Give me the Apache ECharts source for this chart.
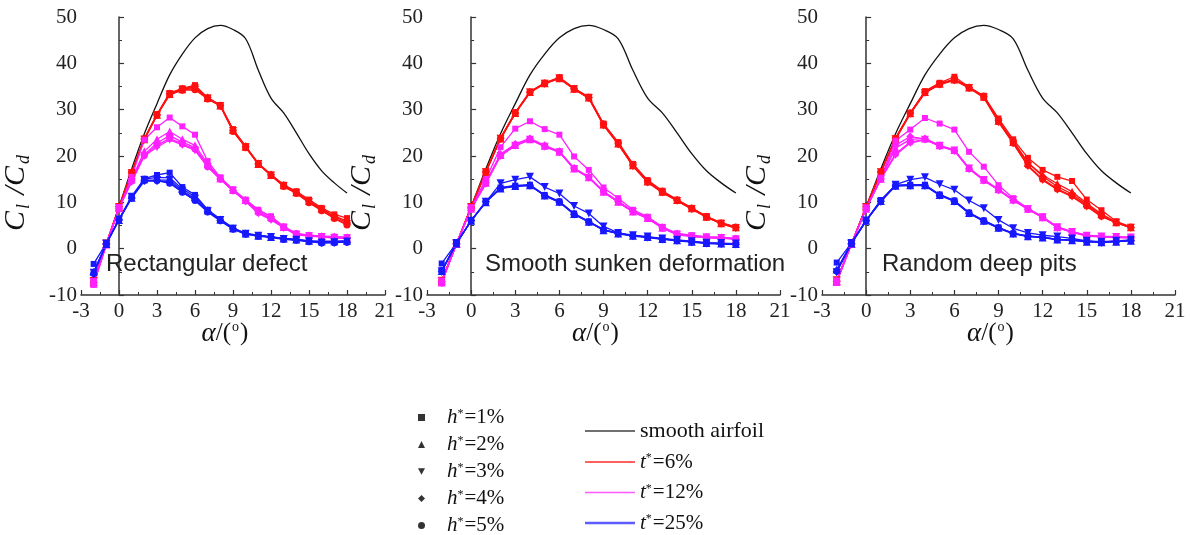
<!DOCTYPE html>
<html>
<head>
<meta charset="utf-8">
<title>Cl/Cd vs angle of attack</title>
<script src="https://cdn.jsdelivr.net/npm/echarts@6/dist/echarts.min.js"></script>
<style>
  html, body { margin: 0; padding: 0; background: #fff; }
  #chart { width: 1190px; height: 535px; }
</style>
</head>
<body>
<div id="chart"></div>
<script>
// angle of attack for the defect cases
const alpha = [-2, -1, 0, 1, 2, 3, 4, 5, 6, 7, 8, 9, 10, 11, 12, 13, 14, 15, 16, 17, 18]
// smooth airfoil reference curve
const smoothAlpha = [0, 1, 2, 3, 4, 5, 6, 7, 8, 9, 10, 11, 12, 13, 14, 15, 16, 17, 18]
const smoothAirfoil = [9.0, 17.2, 24.8, 31.3, 37.5, 42.0, 45.5, 47.5, 48.2, 47.3, 45.3, 38.5, 32.5, 29.3, 25.0, 20.5, 16.8, 14.2, 12.0]

// rows: h*=1%..5%
const rectRed = [
  [-7.5, 1.0, 9.0, 16.5, 23.8, 29.0, 33.6, 34.6, 35.3, 32.6, 31.0, 25.8, 22.1, 18.4, 16.0, 13.8, 12.4, 10.6, 8.8, 7.4, 6.6],
  [-7.2, 1.0, 9.0, 16.4, 23.6, 28.9, 33.4, 34.4, 34.9, 32.5, 30.9, 25.6, 22.0, 18.3, 15.9, 13.7, 12.2, 10.3, 8.6, 7.0, 6.0],
  [-7.0, 1.1, 9.0, 16.3, 23.5, 28.8, 33.3, 34.3, 34.6, 32.4, 30.8, 25.4, 21.9, 18.3, 15.8, 13.5, 12.0, 10.0, 8.3, 6.6, 5.3],
  [-7.3, 1.0, 9.1, 16.5, 23.7, 28.9, 33.5, 34.5, 35.0, 32.6, 30.9, 25.6, 22.1, 18.4, 16.0, 13.7, 12.2, 10.2, 8.5, 6.9, 5.6],
  [-7.1, 1.0, 9.0, 16.4, 23.6, 28.8, 33.2, 34.2, 34.3, 32.3, 30.8, 25.3, 21.8, 18.2, 15.8, 13.4, 11.9, 9.9, 8.2, 6.5, 5.1]
]
const rectPink = [
  [-7.8, 0.8, 8.6, 15.5, 23.5, 26.2, 28.3, 26.4, 24.6, 18.9, 15.4, 12.8, 10.6, 8.4, 7.0, 4.8, 3.3, 2.9, 2.7, 2.6, 2.5],
  [-7.5, 0.9, 8.7, 15.0, 21.0, 23.6, 25.3, 23.6, 22.3, 18.3, 15.2, 12.7, 10.5, 8.3, 6.9, 4.7, 3.2, 2.9, 2.7, 2.6, 2.4],
  [-7.2, 1.0, 8.8, 14.4, 20.0, 21.9, 23.5, 22.4, 21.2, 17.6, 15.0, 12.5, 10.2, 7.6, 6.2, 4.5, 3.0, 2.7, 2.5, 2.3, 2.2],
  [-7.6, 0.9, 8.6, 14.8, 20.3, 22.8, 24.4, 23.0, 21.8, 17.9, 15.1, 12.6, 10.4, 8.0, 6.6, 4.6, 3.2, 2.8, 2.6, 2.5, 2.4],
  [-7.0, 1.0, 8.7, 14.6, 20.1, 22.3, 23.8, 22.6, 21.5, 17.7, 15.0, 12.5, 10.3, 7.8, 6.4, 4.5, 3.1, 2.8, 2.6, 2.4, 2.3]
]
const rectBlue = [
  [-3.3, 1.2, 6.4, 11.3, 15.1, 15.9, 16.4, 13.3, 11.6, 8.4, 6.4, 4.5, 3.3, 2.9, 2.6, 2.2, 2.0, 1.7, 1.5, 1.5, 1.7],
  [-5.0, 1.0, 6.2, 11.0, 15.0, 15.4, 15.3, 12.9, 11.2, 8.3, 6.3, 4.4, 3.3, 2.8, 2.5, 2.2, 2.0, 1.7, 1.6, 1.6, 1.7],
  [-5.2, 1.1, 6.3, 11.2, 14.8, 14.8, 14.8, 12.5, 10.8, 8.1, 6.2, 4.3, 3.2, 2.8, 2.5, 2.1, 1.9, 1.6, 1.3, 1.4, 1.5],
  [-5.5, 1.0, 6.2, 10.9, 14.6, 14.6, 14.4, 12.3, 10.5, 8.0, 6.1, 4.3, 3.2, 2.8, 2.5, 2.1, 1.9, 1.6, 1.3, 1.3, 1.4],
  [-5.3, 1.1, 6.3, 11.1, 14.7, 14.7, 14.1, 12.2, 10.4, 7.9, 6.0, 4.2, 3.1, 2.7, 2.4, 2.0, 1.8, 1.5, 1.2, 1.3, 1.4]
]

const sunkRed = [
  [-7.2, 1.0, 9.1, 16.7, 23.9, 29.4, 33.9, 35.8, 37.0, 34.6, 32.8, 27.0, 23.0, 18.3, 14.8, 12.5, 10.6, 8.8, 7.0, 5.6, 4.7],
  [-7.0, 1.0, 9.0, 16.6, 23.8, 29.3, 33.8, 35.7, 36.8, 34.5, 32.6, 26.8, 22.7, 18.0, 14.5, 12.3, 10.5, 8.7, 6.9, 5.5, 4.6],
  [-6.9, 1.1, 9.0, 16.5, 23.7, 29.2, 33.7, 35.6, 36.7, 34.4, 32.5, 26.6, 22.5, 17.8, 14.3, 12.1, 10.3, 8.5, 6.8, 5.4, 4.4],
  [-7.1, 1.0, 9.0, 16.6, 23.8, 29.3, 33.8, 35.7, 36.9, 34.5, 32.6, 26.9, 22.8, 18.1, 14.6, 12.4, 10.5, 8.7, 6.9, 5.5, 4.6],
  [-7.0, 1.0, 8.9, 16.5, 23.7, 29.2, 33.7, 35.6, 36.8, 34.4, 32.5, 26.7, 22.6, 17.9, 14.4, 12.2, 10.4, 8.6, 6.8, 5.4, 4.5]
]
const sunkPink = [
  [-7.3, 1.0, 8.8, 15.0, 21.9, 25.9, 27.5, 25.8, 24.6, 19.9, 17.0, 13.2, 10.9, 8.4, 6.9, 4.7, 3.3, 2.9, 2.6, 2.5, 2.2],
  [-7.3, 1.0, 8.6, 14.2, 20.2, 22.4, 23.6, 22.2, 20.9, 17.3, 15.4, 12.3, 10.1, 8.0, 6.6, 4.5, 3.1, 2.7, 2.4, 2.3, 2.1],
  [-7.1, 1.0, 8.7, 14.0, 20.0, 22.2, 23.5, 22.0, 20.8, 17.2, 15.3, 12.2, 10.0, 7.9, 6.5, 4.4, 3.0, 2.6, 2.4, 2.3, 2.0],
  [-7.4, 1.0, 8.6, 14.3, 20.4, 22.6, 23.8, 22.3, 21.0, 17.4, 15.5, 12.4, 10.2, 8.1, 6.7, 4.6, 3.2, 2.8, 2.5, 2.4, 2.2],
  [-7.2, 1.0, 8.6, 14.1, 20.1, 22.3, 23.6, 22.1, 20.9, 17.3, 15.4, 12.3, 10.1, 8.0, 6.6, 4.5, 3.1, 2.7, 2.4, 2.3, 2.1]
]
const sunkBlue = [
  [-3.2, 1.2, 6.0, 10.1, 13.2, 13.6, 13.8, 11.6, 10.2, 7.6, 5.9, 4.1, 3.3, 2.8, 2.5, 2.1, 1.8, 1.5, 1.2, 1.1, 1.0],
  [-4.8, 1.1, 6.0, 10.0, 13.0, 13.5, 13.7, 11.5, 10.1, 7.5, 5.8, 4.0, 3.3, 2.8, 2.5, 2.1, 1.8, 1.5, 1.2, 1.1, 1.0],
  [-4.9, 1.2, 6.0, 10.1, 14.1, 14.9, 15.5, 13.3, 11.9, 9.2, 7.6, 4.8, 3.4, 2.9, 2.6, 2.2, 1.9, 1.6, 1.3, 1.2, 1.1],
  [-5.0, 1.1, 6.1, 10.2, 13.1, 13.6, 13.7, 11.4, 10.0, 7.4, 5.7, 4.0, 3.2, 2.7, 2.4, 2.0, 1.7, 1.4, 1.1, 1.0, 0.9],
  [-4.7, 1.2, 6.0, 10.1, 13.0, 13.4, 13.6, 11.5, 10.1, 7.5, 5.8, 4.1, 3.3, 2.8, 2.5, 2.1, 1.8, 1.5, 1.2, 1.1, 1.0]
]

const pitsRed = [
  [-7.0, 1.0, 9.0, 16.6, 23.9, 29.3, 34.0, 35.8, 37.1, 34.9, 33.0, 28.1, 23.6, 19.6, 17.0, 15.5, 14.6, 10.6, 8.3, 5.9, 4.7],
  [-7.0, 1.0, 9.0, 16.5, 23.7, 29.2, 33.8, 35.6, 36.5, 34.8, 32.8, 27.6, 23.0, 18.5, 15.9, 14.0, 12.3, 9.8, 7.5, 5.7, 4.6],
  [-6.8, 1.0, 9.0, 16.5, 23.6, 29.1, 33.6, 35.4, 36.3, 34.7, 32.6, 27.3, 22.7, 17.8, 14.8, 12.7, 11.2, 9.1, 6.9, 5.6, 4.5],
  [-7.1, 1.0, 9.1, 16.6, 23.8, 29.3, 33.8, 35.6, 36.6, 34.8, 32.9, 27.7, 23.2, 18.6, 15.6, 13.4, 11.8, 9.5, 7.2, 5.7, 4.6],
  [-6.9, 1.0, 9.0, 16.5, 23.7, 29.2, 33.7, 35.5, 36.4, 34.7, 32.7, 27.4, 22.8, 18.0, 15.0, 12.9, 11.4, 9.2, 7.0, 5.6, 4.5]
]
const pitsPink = [
  [-7.0, 1.0, 8.6, 15.3, 23.3, 25.7, 28.2, 27.0, 25.7, 20.9, 17.7, 13.7, 10.9, 8.7, 6.9, 4.7, 3.7, 2.9, 2.7, 2.6, 2.5],
  [-7.2, 1.0, 8.6, 15.1, 21.7, 23.6, 23.8, 22.3, 21.3, 17.4, 14.9, 12.8, 10.6, 8.6, 6.8, 4.6, 3.6, 2.8, 2.6, 2.5, 2.4],
  [-7.1, 1.0, 8.7, 15.0, 20.2, 22.8, 23.5, 22.2, 21.2, 17.3, 14.8, 12.7, 10.5, 8.5, 6.8, 4.6, 3.6, 2.8, 2.6, 2.5, 2.4],
  [-7.0, 1.0, 8.6, 15.2, 22.3, 24.2, 23.7, 22.1, 21.1, 17.2, 14.7, 12.6, 10.4, 8.5, 6.7, 4.5, 3.5, 2.7, 2.5, 2.4, 2.3],
  [-7.3, 1.0, 8.6, 15.0, 20.5, 23.0, 23.6, 22.2, 21.2, 17.3, 14.8, 12.7, 10.5, 8.5, 6.8, 4.6, 3.6, 2.8, 2.6, 2.5, 2.4]
]
const pitsBlue = [
  [-3.0, 1.2, 6.1, 10.5, 13.7, 13.8, 13.8, 11.7, 10.4, 7.8, 6.1, 4.6, 3.3, 2.7, 2.5, 2.0, 1.9, 1.6, 1.4, 1.6, 1.8],
  [-4.5, 1.1, 6.0, 10.3, 13.6, 13.7, 13.7, 11.6, 10.3, 7.7, 6.0, 4.5, 3.3, 2.7, 2.4, 2.0, 1.8, 1.5, 1.4, 1.5, 1.7],
  [-5.1, 1.2, 6.1, 10.1, 13.8, 14.9, 15.4, 13.9, 12.7, 10.4, 8.7, 6.2, 4.4, 3.4, 2.9, 2.6, 2.2, 1.7, 1.5, 1.7, 1.9],
  [-5.0, 1.1, 6.0, 10.2, 13.5, 13.6, 13.6, 11.5, 10.2, 7.6, 5.9, 4.4, 3.2, 2.6, 2.4, 1.9, 1.8, 1.5, 1.3, 1.5, 1.7],
  [-4.8, 1.2, 6.1, 10.4, 13.6, 13.7, 13.7, 11.6, 10.3, 7.7, 6.0, 4.5, 3.3, 2.7, 2.5, 2.0, 1.9, 1.6, 1.4, 1.6, 1.8]
]

const panelTitles = ["Rectangular defect", "Smooth sunken deformation", "Random deep pits"]
const hLabels = ["1%", "2%", "3%", "4%", "5%"]
const tLabels = ["6%", "12%", "25%"]

const panels = [
  [rectRed, rectPink, rectBlue],
  [sunkRed, sunkPink, sunkBlue],
  [pitsRed, pitsPink, pitsBlue]
]
const tColors = ["#ff1010", "#ff20ff", "#1818ff"]
const downTri = "path://M0,0L10,0L5,9Z"
const hSymbols = ["rect", "triangle", downTri, "diamond", "circle"]
const hSizes = [6, 8, 8, 8, 7]
const gridLefts = [32, 427, 822]
const titleLefts = [106, 485, 882]

const serif = "Liberation Serif"
const axisColor = "#333"

// legend line icon: invisible 50x10 frame with a bar of the given thickness
const barIcon = w => "path://M0,0L0,10M0," + (5 - w / 2) + "L50," + (5 - w / 2) + "L50," + (5 + w / 2) + "L0," + (5 + w / 2) + "Z"

const grid = gridLefts.map(l => ({ left: l, top: 17, width: 353, height: 278 }))

const xAxis = gridLefts.map((l, i) => ({
  type: "value",
  gridIndex: i,
  min: -3,
  max: 21,
  interval: 3,
  name: "{a|α}{n|/(}{s|o}{n|)}",
  nameLocation: "middle",
  nameGap: 25,
  nameMoveOverlap: false,
  nameTextStyle: {
    padding: [0, 16, 0, 0],
    rich: {
      a: { fontFamily: serif, fontStyle: "italic", fontSize: 27, color: "#111" },
      n: { fontFamily: serif, fontSize: 25, color: "#111" },
      s: { fontFamily: serif, fontSize: 14, color: "#111", verticalAlign: "top", padding: [0, 1, 10, 1] }
    }
  },
  axisLine: { onZero: false, lineStyle: { color: axisColor, width: 1.5 } },
  axisTick: { inside: true, length: 5, lineStyle: { color: axisColor, width: 1.2 } },
  minorTick: { show: true, splitNumber: 2, length: 3, lineStyle: { color: axisColor, width: 1 } },
  splitLine: { show: false },
  axisLabel: { fontFamily: serif, fontSize: 21, color: "#222", margin: 6 }
}))

const yAxis = gridLefts.map((l, i) => ({
  type: "value",
  gridIndex: i,
  min: -10,
  max: 50,
  interval: 10,
  name: "{c|C}{b|l}{c| /C}{b|d}",
  nameLocation: "middle",
  nameRotate: 90,
  nameGap: 48,
  nameTextStyle: {
    padding: [0, 72, 0, 0],
    rich: {
      c: { fontFamily: serif, fontStyle: "italic", fontSize: 30, color: "#111" },
      b: { fontFamily: serif, fontStyle: "italic", fontSize: 18, color: "#111", padding: [16, 2, 0, 2] }
    }
  },
  axisLine: { onZero: true, lineStyle: { color: axisColor, width: 1.5 } },
  axisTick: { inside: true, length: 5, lineStyle: { color: axisColor, width: 1.2 } },
  minorTick: { show: true, splitNumber: 2, length: 3, lineStyle: { color: axisColor, width: 1 } },
  splitLine: { show: false },
  axisLabel: { fontFamily: serif, fontSize: 21, color: "#222", margin: 4 }
}))

const title = panelTitles.map((t, i) => ({
  text: t,
  left: titleLefts[i],
  top: 252,
  padding: 0,
  textStyle: { fontFamily: "Liberation Sans", fontSize: 24, fontWeight: "normal", color: "#222" }
}))

const series = []
panels.forEach((groups, p) => {
  series.push({
    name: "smooth-" + p,
    type: "line",
    xAxisIndex: p,
    yAxisIndex: p,
    smooth: 0.35,
    symbol: "none",
    lineStyle: { color: "#111", width: 1.3 },
    data: smoothAlpha.map((a, k) => [a, smoothAirfoil[k]])
  })
  groups.forEach((rows, c) => {
    rows.forEach((vals, h) => {
      series.push({
        name: "p" + p + "-t" + c + "-h" + h,
        type: "line",
        xAxisIndex: p,
        yAxisIndex: p,
        symbol: hSymbols[h],
        symbolSize: hSizes[h],
        itemStyle: { color: tColors[c] },
        lineStyle: { color: tColors[c], width: 1.3 },
        data: alpha.map((a, k) => [a, vals[k]])
      })
    })
  })
})

// legend-only series
hLabels.forEach((lab, h) => {
  series.push({
    name: "h*=" + lab,
    type: "scatter",
    xAxisIndex: 0,
    yAxisIndex: 0,
    symbol: hSymbols[h],
    itemStyle: { color: "#000" },
    data: []
  })
})
const lineLegend = [
  { name: "smooth airfoil", color: "#111", width: 1.4 },
  { name: "t*=" + tLabels[0], color: "#ff3a3a", width: 2 },
  { name: "t*=" + tLabels[1], color: "#ff30ff", width: 1.6 },
  { name: "t*=" + tLabels[2], color: "#3434ff", width: 2.6 }
]
lineLegend.forEach(l => {
  series.push({
    name: l.name,
    type: "scatter",
    xAxisIndex: 0,
    yAxisIndex: 0,
    itemStyle: { color: l.color },
    data: []
  })
})

const legendRich = {
  i: { fontFamily: serif, fontStyle: "italic", fontSize: 21, color: "#111", lineHeight: 20 },
  s: { fontFamily: serif, fontSize: 12, color: "#111", verticalAlign: "top", lineHeight: 12, padding: [0, 1, 0, 0] },
  n: { fontFamily: serif, fontSize: 21, color: "#111", lineHeight: 20 },
  w: { fontFamily: serif, fontSize: 22, color: "#111", lineHeight: 21 }
}
const legendFmt = name => {
  if (name.indexOf("*=") === 1) {
    return "{i|" + name[0] + "}{s|*}{n|" + name.slice(2) + "}"
  }
  return "{w|" + name + "}"
}

const option = {
  animation: false,
  backgroundColor: "#fff",
  title,
  grid,
  xAxis,
  yAxis,
  legend: [
    {
      orient: "vertical",
      left: 418,
      top: 407,
      height: 160,
      padding: 0,
      itemWidth: 7,
      itemHeight: 7,
      itemGap: 6,
      selectedMode: false,
      data: hLabels.map((lab, h) => ({ name: "h*=" + lab, icon: hSymbols[h] })),
      formatter: legendFmt,
      textStyle: { padding: [0, 0, 0, 17], rich: legendRich }
    },
    {
      orient: "vertical",
      left: 585,
      top: 420,
      height: 160,
      padding: 0,
      itemWidth: 50,
      itemHeight: 10,
      itemGap: 9.5,
      selectedMode: false,
      itemStyle: { borderWidth: 0 },
      data: lineLegend.map(l => ({ name: l.name, icon: barIcon(l.width) })),
      formatter: legendFmt,
      textStyle: { rich: legendRich }
    }
  ],
  series
}

const chartBox = echarts.init(document.getElementById("chart"))
chartBox.setOption(option)
</script>
</body>
</html>
